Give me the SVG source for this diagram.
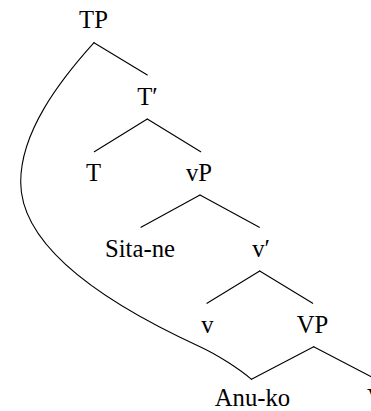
<svg xmlns="http://www.w3.org/2000/svg" width="371" height="411" viewBox="0 0 371 411">
<style>
.t{font-family:"Liberation Serif","Times New Roman",serif;font-size:24.7px;fill:#000;text-anchor:middle}
.e{stroke:#000;stroke-width:1.1;fill:none;stroke-linecap:round}
</style>
<rect width="371" height="411" fill="#fff"/>
<g id="connectors">
<line class="e" x1="94" y1="42.7" x2="147.3" y2="75"/>
<line class="e" x1="147.3" y1="119" x2="94.3" y2="151.7"/>
<line class="e" x1="147.3" y1="119" x2="200.7" y2="151.7"/>
<line class="e" x1="200" y1="195" x2="141" y2="227.3"/>
<line class="e" x1="200" y1="195" x2="259.3" y2="227.3"/>
<line class="e" x1="259.7" y1="271" x2="207" y2="303.3"/>
<line class="e" x1="259.7" y1="271" x2="312.7" y2="303.3"/>
<line class="e" x1="313.7" y1="346.7" x2="251.5" y2="379.3"/>
<line class="e" x1="313.7" y1="346.7" x2="376" y2="379.3"/>
<path class="e" d="M94,42.7 C59,81.5 20.7,132 20.7,182 C20.7,252 120,310 200,346.7 C218.2,355 240.2,369.7 251.5,379.3"/>
</g>
<g id="TP"><text class="t" x="93.5" y="28.3">TP</text></g>
<g id="Tbar"><text class="t" x="147.5" y="104.5">T′</text></g>
<g id="T"><text class="t" x="93.5" y="180.5">T</text></g>
<g id="vP"><text class="t" x="199" y="180.5">vP</text></g>
<g id="Sita-ne"><text class="t" x="140" y="256.7">Sita-ne</text></g>
<g id="vbar"><text class="t" x="261" y="256.5">v′</text></g>
<g id="v"><text class="t" x="207.5" y="332.5">v</text></g>
<g id="VP"><text class="t" x="312.5" y="332.5">VP</text></g>
<g id="Anu-ko"><text class="t" x="252.5" y="406.3">Anu-ko</text></g>
<g id="V"><text class="t" x="376" y="406.3">V</text></g>
</svg>
